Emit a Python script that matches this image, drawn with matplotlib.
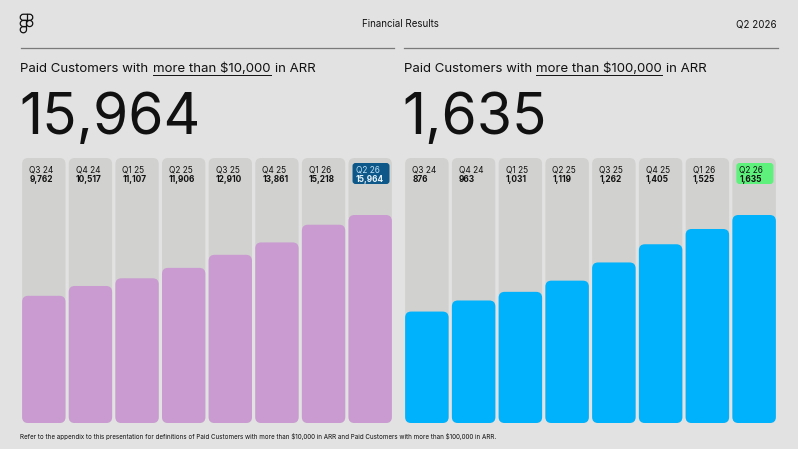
import numpy as np
import matplotlib
matplotlib.use("Agg")
import matplotlib.pyplot as plt
from matplotlib.patches import FancyBboxPatch, Circle, Polygon
from matplotlib import transforms

quarters = ["Q3 24", "Q4 24", "Q1 25", "Q2 25", "Q3 25", "Q4 25", "Q1 26", "Q2 26"]
customers_10k = [9762, 10517, 11107, 11906, 12910, 13861, 15218, 15964]
customers_100k = [876, 963, 1031, 1119, 1262, 1405, 1525, 1635]

header_title = "Financial Results"
header_period = "Q2 2026"
footnote = ("Refer to the appendix to this presentation for definitions of Paid Customers with "
            "more than $10,000 in ARR and Paid Customers with more than $100,000 in ARR.")

BG = "#e2e2e2"
COL_BG = "#d1d2cf"
INK = "#111111"
PURPLE = "#c99bd1"
BLUE = "#00b1fb"

W, H = 798, 449
plt.rcParams["font.family"] = ["Inter", "DejaVu Sans"]

fig = plt.figure(figsize=(W / 100, H / 100), dpi=100, facecolor=BG)
renderer = fig.canvas.get_renderer()


def fy(y):
    return 1 - y / H


def text_width(s, **kw):
    t = fig.text(0, 0, s, parse_math=False, **kw)
    w = t.get_window_extent(renderer).width
    t.remove()
    return w


# header
fig.text(400 / W, fy(24), header_title, ha="center", va="center", fontsize=7, color=INK)
fig.text(777 / W, fy(24), header_period, ha="right", va="center", fontsize=7, color=INK)

# logo
lax = fig.add_axes([19 / W, fy(34), 15 / W, 21 / H])
lax.set_xlim(-0.2, 2.2)
lax.set_ylim(-0.2, 3.2)
lax.axis("off")
lkw = dict(fill=False, ec=INK, lw=0.9)
lax.add_patch(FancyBboxPatch((0, 2), 2, 1, boxstyle="round,pad=0,rounding_size=0.5", **lkw))
lax.plot([1, 1], [2, 3], color=INK, lw=0.9)
a = np.linspace(np.pi / 2, 3 * np.pi / 2, 30)
mid = np.vstack([[1, 2]] + [[0.5 + 0.5 * np.cos(t), 1.5 + 0.5 * np.sin(t)] for t in a] + [[1, 1]])
lax.add_patch(Polygon(mid, closed=True, **lkw))
lax.add_patch(Circle((1.5, 1.5), 0.5, **lkw))
a = np.linspace(0, -3 * np.pi / 2, 40)
bot = np.vstack([[1, 1], [1, 0.5]] + [[0.5 + 0.5 * np.cos(t), 0.5 + 0.5 * np.sin(t)] for t in a])
lax.add_patch(Polygon(bot, closed=True, **lkw))


def panel(left, right, values, bar_color, hl_face, hl_text, ul_text):
    # rule + title
    fig.add_artist(plt.Line2D([left / W, right / W], [fy(48), fy(48)], color="#7a7a7a", lw=0.9))
    tkw = dict(fontsize=9.5, color=INK, va="baseline")
    base = fy(72)
    pre, post = "Paid Customers with", "in ARR"
    sp = text_width("x x", **tkw) - text_width("xx", **tkw) + 0.8
    x = left
    fig.text(x / W, base, pre, parse_math=False, **tkw)
    x += text_width(pre, **tkw) + sp
    fig.text(x / W, base, ul_text, parse_math=False, **tkw)
    wu = text_width(ul_text, **tkw)
    fig.add_artist(plt.Line2D([x / W, (x + wu) / W], [fy(74.5), fy(74.5)], color=INK, lw=0.7))
    x += wu + sp
    fig.text(x / W, base, post, parse_math=False, **tkw)

    # big number
    fig.text((left - 1) / W, fy(134), f"{values[-1]:,}", fontsize=41, color=INK, va="baseline")

    # columns
    n = len(values)
    ax = fig.add_axes([left / W, fy(423), (right - left) / W, 265 / H])
    ymax = max(values) * 265 / 208
    ax.set_xlim(-0.5, n - 0.5)
    ax.set_ylim(0, ymax)
    ax.axis("off")
    xpx = (right - left) / n
    ypx = 265 / ymax
    w = 0.93
    r = 6 / xpx
    style = f"round,pad=0,rounding_size={r}"
    for i, (q, v) in enumerate(zip(quarters, values)):
        ax.add_patch(FancyBboxPatch((i - w / 2, 0), w, ymax, boxstyle=style,
                                    mutation_aspect=xpx / ypx, fc=COL_BG, ec="none"))
        ax.add_patch(FancyBboxPatch((i - w / 2, 0), w, v, boxstyle=style,
                                    mutation_aspect=xpx / ypx, fc=bar_color, ec="none"))
        c1, c2 = INK, INK
        if i == n - 1:
            ox, oy = ax.transData.transform((i - w / 2, ymax))
            tr = transforms.Affine2D().translate(ox, oy)
            ax.add_patch(FancyBboxPatch((4, -26), 37, 21, boxstyle="round,pad=0,rounding_size=3",
                                        fc=hl_face, ec="none", transform=tr))
            c1, c2 = hl_text
        ax.annotate(q, xy=(i - w / 2, ymax), xytext=(7, -12), textcoords="offset pixels",
                    ha="left", va="center", fontsize=6.0, color=c1)
        ax.annotate(f"{v:,}", xy=(i - w / 2, ymax), xytext=(7, -21.5), textcoords="offset pixels",
                    ha="left", va="center", fontsize=6.0, fontweight="bold", color=c2)


panel(20.5, 393.5, customers_10k, PURPLE, "#0d5889", ("#bfe0f5", "#e8f3fb"), "more than $10,000")
panel(403.5, 777.5, customers_100k, BLUE, "#5ef27c", (INK, INK), "more than $100,000")

fig.text(20 / W, fy(436), footnote, fontsize=4.5, color=INK, va="center", ha="left",
         parse_math=False)

fig.savefig("out.png", dpi=100, facecolor=BG)
